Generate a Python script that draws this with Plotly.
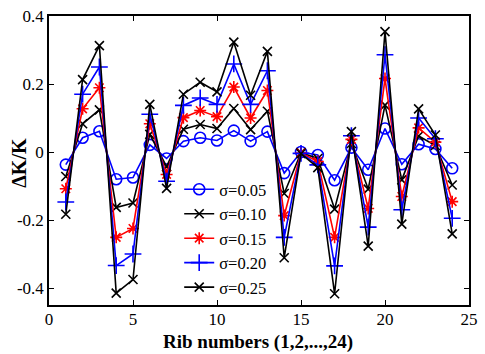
import plotly.graph_objects as go

ribs = list(range(1, 25))
s05 = [-0.037, 0.042, 0.061, -0.080, -0.075, 0.021, -0.019, 0.032, 0.042, 0.034, 0.063, 0.032,
       0.060, -0.062, 0.000, -0.009, -0.083, 0.013, -0.052, 0.069, -0.036, 0.023, 0.009, -0.048]
s10 = [-0.072, 0.083, 0.124, -0.163, -0.150, 0.052, -0.043, 0.067, 0.081, 0.069, 0.128, 0.066,
       0.120, -0.122, -0.002, -0.019, -0.168, 0.025, -0.109, 0.138, -0.082, 0.047, 0.019, -0.097]
s15 = [-0.108, 0.127, 0.189, -0.251, -0.225, 0.083, -0.066, 0.101, 0.122, 0.104, 0.191, 0.100,
       0.181, -0.187, -0.003, -0.028, -0.251, 0.037, -0.166, 0.216, -0.131, 0.071, 0.029, -0.146]
s20 = [-0.147, 0.170, 0.250, -0.334, -0.300, 0.111, -0.086, 0.137, 0.159, 0.140, 0.259, 0.140,
       0.239, -0.251, -0.004, -0.038, -0.335, 0.048, -0.221, 0.286, -0.170, 0.100, 0.039, -0.195]
s25 = [-0.183, 0.213, 0.313, -0.415, -0.375, 0.140, -0.107, 0.170, 0.205, 0.177, 0.323, 0.167,
       0.296, -0.311, -0.005, -0.046, -0.417, 0.060, -0.277, 0.354, -0.212, 0.127, 0.050, -0.241]

names = ["σ=0.05", "σ=0.10", "σ=0.15", "σ=0.20", "σ=0.25"]
series = [s05, s10, s15, s20, s25]
colors = ["#0000ff", "#000000", "#ff0000", "#0000ff", "#000000"]
symbols = ["circle-open", "x-thin-open", "asterisk-open", "cross-thin-open", "x-thin-open"]
sizes = [11, 9, 10, 12, 9]

FONT = '"Times New Roman", "Liberation Serif", serif'

fig = go.Figure()
for n, s, c, sym, sz in zip(names, series, colors, symbols, sizes):
    fig.add_trace(go.Scatter(
        x=ribs, y=s, name=n, mode="lines+markers",
        line=dict(color=c, width=1.6),
        marker=dict(symbol=sym, size=sz, color=c, line=dict(color=c, width=1.6)),
    ))

axis_common = dict(
    showline=True, linecolor="black", linewidth=1.5, mirror="ticks",
    ticks="inside", ticklen=5, tickwidth=1, tickcolor="black",
    showgrid=False, zeroline=False,
    tickfont=dict(family=FONT, size=17, color="black"),
)

fig.update_layout(
    width=485, height=354,
    margin=dict(l=49, r=7, t=14, b=49),
    paper_bgcolor="white", plot_bgcolor="white",
    font=dict(family=FONT, color="black"),
    xaxis=dict(range=[0, 25], tickvals=[0, 5, 10, 15, 20, 25], ticklabelstandoff=-2,
               **axis_common),
    yaxis=dict(range=[-0.45, 0.4], tickvals=[-0.4, -0.2, 0, 0.2, 0.4],
               ticktext=["-0.4", "-0.2", "0", "0.2", "0.4"],
               **axis_common),
    legend=dict(x=0.31, y=0.46, xanchor="left", yanchor="top",
                bgcolor="rgba(0,0,0,0)", borderwidth=0,
                font=dict(family=FONT, size=16.5, color="black"),
                tracegroupgap=0),
    showlegend=True,
    annotations=[
        dict(text="<b>Rib numbers (1,2,...,24)</b>", xref="paper", yref="paper",
             x=(262 - 49) / 429, y=-37 / 291, xanchor="center", yanchor="middle", showarrow=False,
             font=dict(family=FONT, size=19, color="black")),
        dict(text="<b>ΔK/K</b>", xref="paper", yref="paper",
             x=-31.5 / 429, y=0.493, xanchor="center", yanchor="middle", showarrow=False,
             textangle=-90, font=dict(family=FONT, size=20, color="black")),
    ],
)

fig.write_html("out.html")
